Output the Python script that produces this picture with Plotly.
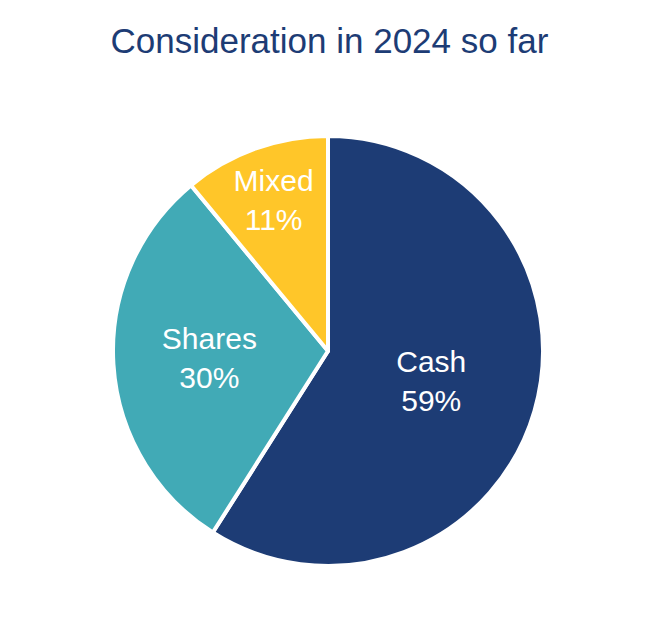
import plotly.graph_objects as go

# consideration split, 2024 so far
labels = ["Cash", "Shares", "Mixed"]
values = [59, 30, 11]
colors = ["#1d3c75", "#41aab6", "#ffc629"]

fig = go.Figure(go.Pie(
    labels=labels,
    values=values,
    sort=False,
    direction="clockwise",
    rotation=0,
    marker=dict(colors=colors, line=dict(color="white", width=4)),
    texttemplate="%{label}<br>%{percent:.0%}",
    textposition="inside",
    insidetextorientation="horizontal",
    textfont=dict(color="white", size=30, family="Liberation Sans, Arial, sans-serif"),
    hoverinfo="label+percent",
    showlegend=False,
))

fig.update_layout(
    width=660,
    height=624,
    title=dict(
        text="Consideration in 2024 so far",
        x=0.487,
        xanchor="center",
        y=0.948,
        yanchor="middle",
        font=dict(size=35, color="#1d3c75", family="Liberation Sans, Arial, sans-serif"),
    ),
    margin=dict(l=105, r=125, t=128, b=66),
    paper_bgcolor="white",
    plot_bgcolor="white",
)

fig.write_html("out.html")
